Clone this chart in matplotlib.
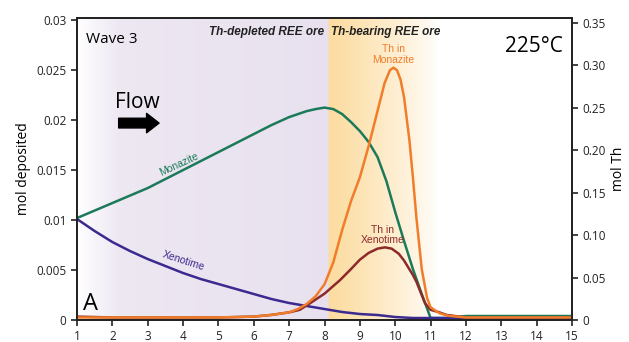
import matplotlib.pyplot as plt
import numpy as np

plt.rcParams['font.family'] = ['Open Sans', 'DejaVu Sans']

# mol deposited (left axis)
mon_x = [1, 2, 3, 3.5, 4, 4.5, 5, 5.5, 6, 6.5, 7, 7.5, 7.75, 8, 8.25, 8.5, 8.75, 9, 9.25,
         9.5, 9.75, 10, 10.25, 10.5, 10.75, 11, 11.5, 12, 13, 14, 15]
mon_y = [0.0102, 0.0117, 0.0132, 0.0141, 0.0150, 0.0159, 0.0168, 0.0177, 0.0186,
         0.0195, 0.0203, 0.0209, 0.0211, 0.02125, 0.0211, 0.0206, 0.0198, 0.0189, 0.0178,
         0.0163, 0.0139, 0.0108, 0.0079, 0.0051, 0.0026, 0.0002, 0.0002, 0.0004,
         0.0004, 0.0004, 0.0004]
xen_x = [1, 1.5, 2, 2.5, 3, 3.5, 4, 4.5, 5, 5.5, 6, 6.5, 7, 7.5, 8, 8.5, 9, 9.5,
         10, 10.5, 11, 12, 13, 14, 15]
xen_y = [0.0101, 0.0089, 0.0078, 0.0069, 0.0061, 0.0054, 0.0047, 0.0041, 0.0036,
         0.0031, 0.0026, 0.0021, 0.0017, 0.0014, 0.0011, 0.0008, 0.0006, 0.0005,
         0.0003, 0.0002, 0.0002, 0.0002, 0.0002, 0.0002, 0.0002]

# mol Th (right axis)
thm_x = [1, 2, 3, 4, 5, 6, 6.5, 7, 7.25, 7.5, 7.75, 8, 8.25, 8.5, 8.75, 9, 9.25,
         9.5, 9.7, 9.85, 9.95, 10.05, 10.15, 10.25, 10.4, 10.5, 10.6, 10.75, 10.9,
         11, 11.25, 11.5, 12, 13, 14, 15]
thm_y = [0.003, 0.003, 0.003, 0.003, 0.003, 0.004, 0.006, 0.009, 0.013, 0.019,
         0.028, 0.042, 0.068, 0.106, 0.140, 0.168, 0.205, 0.246, 0.279, 0.294,
         0.297, 0.294, 0.283, 0.262, 0.212, 0.168, 0.120, 0.060, 0.026, 0.015,
         0.008, 0.005, 0.003, 0.003, 0.003, 0.003]
thx_x = [1, 2, 3, 4, 5, 6, 6.5, 7, 7.3, 7.6, 8, 8.44, 8.75, 9, 9.25, 9.5, 9.71,
         9.9, 10.1, 10.25, 10.5, 10.6, 10.84, 11, 11.25, 11.45, 12, 13, 14, 15]
thx_y = [0.004, 0.003, 0.003, 0.003, 0.003, 0.004, 0.006, 0.009, 0.012, 0.020,
         0.031, 0.047, 0.060, 0.071, 0.079, 0.084, 0.0855, 0.084, 0.078, 0.070,
         0.053, 0.045, 0.020, 0.012, 0.009, 0.006, 0.003, 0.003, 0.003, 0.003]

fig = plt.figure(figsize=(6.29, 3.42), dpi=100)
ax = fig.add_axes([0.1224, 0.0643, 0.787, 0.8827])
ax2 = ax.twinx()

# background shading: lavender (Th-depleted) then orange fading (Th-bearing)
xs = np.linspace(1, 15, 1400)
img = np.ones((1, len(xs), 3))
lav = np.array([0.91, 0.88, 0.935])
ora = np.array([0.99, 0.86, 0.62])
for i, x in enumerate(xs):
    if x < 8.1:
        t = min(1.0, (x - 1) / 1.2) * 0.72 + 0.28 * (x - 1) / 7.1
        img[0, i] = 1 - (1 - lav) * t
    elif x < 11.2:
        t = 1 - (x - 8.1) / 3.1
        img[0, i] = 1 - (1 - ora) * t ** 0.8
ax.imshow(img, extent=[1, 15, 0, 0.0302], aspect='auto', zorder=0)

ax.plot(mon_x, mon_y, color='#1b7a5a', lw=1.8, zorder=3)
ax.plot(xen_x, xen_y, color='#3b2a8f', lw=1.8, zorder=3)
ax2.plot(thx_x, thx_y, color='#8c2a2a', lw=1.8)
ax2.plot(thm_x, thm_y, color='#f07d2a', lw=1.8)

ax.set_xlim(1, 15)
ax.set_ylim(0, 0.0302)
ax2.set_ylim(0, 0.3553)
ax.set_xticks(range(1, 16))
ax.set_yticks([0, 0.005, 0.01, 0.015, 0.02, 0.025, 0.03])
ax.set_yticklabels(['0', '0.005', '0.01', '0.015', '0.02', '0.025', '0.03'])
ax2.set_yticks([0, 0.05, 0.10, 0.15, 0.20, 0.25, 0.30, 0.35])
ax2.set_yticklabels(['0', '0.05', '0.10', '0.15', '0.20', '0.25', '0.30', '0.35'])
for a in (ax, ax2):
    a.tick_params(direction='out', length=4, width=1.2, labelsize=8.5, colors='#222222')
    for s in a.spines.values():
        s.set_linewidth(1.3)
        s.set_color('#222222')
ax.set_ylabel('mol deposited', fontsize=10)
ax2.set_ylabel('mol Th', fontsize=10)

arial = ['Liberation Sans', 'DejaVu Sans']
ax.text(1.25, 0.0281, 'Wave 3', fontsize=11, va='center', zorder=5)
ax.text(8.0, 0.0288, 'Th-depleted REE ore', fontsize=8.5, fontweight='bold',
        style='italic', ha='right', va='center', color='#222222', family=arial, zorder=5)
ax.text(8.18, 0.0288, 'Th-bearing REE ore', fontsize=8.5, fontweight='bold',
        style='italic', ha='left', va='center', color='#222222', family=arial, zorder=5)
ax.text(14.75, 0.0274, '225°C', fontsize=15, ha='right', va='center', zorder=5)
ax.text(9.94, 0.0266, 'Th in\nMonazite', fontsize=7.5, color='#f07d2a', family=arial,
        ha='center', va='center', linespacing=1.1, zorder=5)
ax.text(9.65, 0.0085, 'Th in\nXenotime', fontsize=7.5, color='#8c2a2a', family=arial,
        ha='center', va='center', linespacing=1.1, zorder=5)
ax.text(3.88, 0.0156, 'Monazite', fontsize=7.5, color='#1b7a5a', rotation=25,
        family=arial, ha='center', va='center', zorder=5)
ax.text(4.0, 0.0059, 'Xenotime', fontsize=7.5, color='#3b2a8f', rotation=-18,
        family=arial, ha='center', va='center', zorder=5)
ax.text(2.72, 0.0218, 'Flow', fontsize=15, ha='center', va='center', zorder=5)
ax.annotate('', xy=(3.4, 0.0197), xytext=(2.1, 0.0197),
            arrowprops=dict(arrowstyle='simple,head_length=0.9,head_width=1.4,tail_width=0.7',
                            color='black'), zorder=5)
ax.text(1.37, 0.0016, 'A', fontsize=17, ha='center', va='center', zorder=5)

fig.savefig('out.png', dpi=100)
